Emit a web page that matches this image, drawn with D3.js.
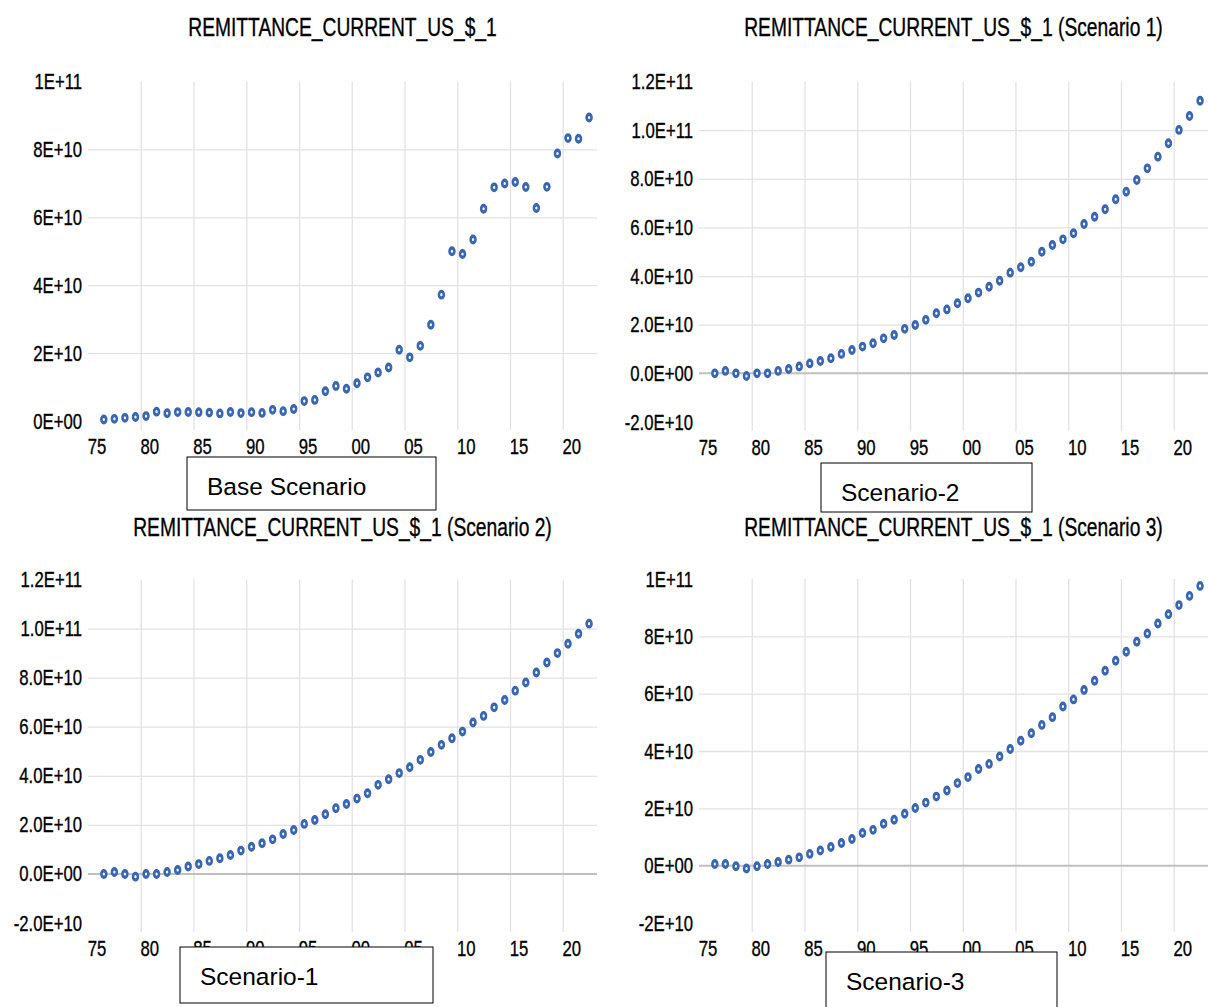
<!DOCTYPE html>
<html>
<head>
<meta charset="utf-8">
<script src="https://cdn.jsdelivr.net/npm/d3@7"></script>
<style>
  body { margin: 0; background: #fff; }
  text { font-family: "Liberation Sans", Arial, sans-serif; fill: #000; }
</style>
</head>
<body>
<script>
const width = 1208;
const height = 1007;

// observations, one per year
const years = d3.range(1975, 2022);

// billions of current US$
const baseValues = [
  0.43, 0.64, 0.93, 1.16, 1.44, 2.76, 2.30, 2.62, 2.66, 2.60,
  2.47, 2.24, 2.67, 2.32, 2.61, 2.38, 3.29, 2.90, 3.52, 5.86,
  6.22, 8.77, 10.33, 9.48, 11.12, 12.85, 14.27, 15.74, 21.00, 18.75,
  22.13, 28.33, 37.22, 49.98, 49.20, 53.48, 62.50, 68.82, 69.97, 70.39,
  68.91, 62.74, 68.97, 78.79, 83.33, 83.15, 89.38
];
const scenario1Values = [
  0.0, 1.0, 0.0, -1.1, 0.0, 0.0, 1.0, 1.8, 2.8, 4.1,
  5.1, 6.2, 8.0, 9.6, 11.0, 12.4, 14.4, 15.8, 18.3, 19.9,
  22.0, 24.7, 26.3, 28.8, 30.9, 33.2, 35.6, 38.1, 41.4, 43.6,
  45.9, 50.0, 52.8, 55.1, 57.6, 61.4, 64.4, 67.5, 71.6, 74.7,
  79.5, 84.3, 89.1, 94.6, 100.1, 105.8, 112.1
];
const scenario2Values = [
  0.0, 0.8, 0.0, -1.1, 0.0, 0.0, 0.8, 1.6, 3.0, 4.0,
  5.3, 6.4, 7.7, 9.5, 11.1, 12.5, 14.1, 16.3, 17.9, 20.4,
  22.0, 24.3, 26.8, 28.5, 30.7, 32.9, 36.3, 38.6, 41.1, 43.5,
  46.5, 49.7, 52.6, 55.3, 58.0, 61.7, 64.4, 67.9, 70.9, 74.7,
  78.0, 82.1, 86.2, 90.0, 93.8, 97.9, 102.0
];
const scenario3Values = [
  0.6, 0.6, -0.2, -1.0, -0.2, 0.6, 1.3, 2.1, 2.9, 4.1,
  5.3, 6.5, 7.9, 9.3, 11.4, 12.5, 14.6, 16.0, 18.1, 20.1,
  22.0, 24.1, 26.2, 28.8, 30.9, 33.7, 35.5, 38.1, 40.7, 43.6,
  46.2, 49.1, 51.8, 55.5, 58.0, 61.3, 64.5, 68.0, 71.5, 74.6,
  78.1, 81.0, 84.5, 87.7, 90.9, 94.1, 97.6
];

const xTickYears = [1975, 1980, 1985, 1990, 1995, 2000, 2005, 2010, 2015, 2020];
const yTicksBase = [0, 2e10, 4e10, 6e10, 8e10, 1e11];
const yTicksScen1 = [-2e10, 0, 2e10, 4e10, 6e10, 8e10, 1e11, 1.2e11];
const yTicksScen2 = [-2e10, 0, 2e10, 4e10, 6e10, 8e10, 1e11, 1.2e11];
const yTicksScen3 = [-2e10, 0, 2e10, 4e10, 6e10, 8e10, 1e11];

const titles = [
  'REMITTANCE_CURRENT_US_$_1',
  'REMITTANCE_CURRENT_US_$_1 (Scenario 1)',
  'REMITTANCE_CURRENT_US_$_1 (Scenario 2)',
  'REMITTANCE_CURRENT_US_$_1 (Scenario 3)'
];
const notes = ['Base Scenario', 'Scenario-2', 'Scenario-1', 'Scenario-3'];

// the source plots each observation a bit right of its labelled gridline
const obsShift = 1.5;
// the whole source picture is squeezed sideways
const squash = 0.75;

const panels = [
  { title: titles[0], values: baseValues, ticks: yTicksBase, dec: 0,
    left: 88, right: 597, top: 81.5, bottom: 421, titleY: 36,
    note: { text: notes[0], x: 187, y: 457, w: 249, h: 53 } },
  { title: titles[1], values: scenario1Values, ticks: yTicksScen1, dec: 1,
    left: 699, right: 1208, top: 81.5, bottom: 422, titleY: 36,
    note: { text: notes[1], x: 821, y: 463, w: 211, h: 49 } },
  { title: titles[2], values: scenario2Values, ticks: yTicksScen2, dec: 1,
    left: 88, right: 597, top: 579.5, bottom: 923, titleY: 536,
    note: { text: notes[2], x: 180, y: 947, w: 253, h: 56 } },
  { title: titles[3], values: scenario3Values, ticks: yTicksScen3, dec: 0,
    left: 699, right: 1208, top: 579, bottom: 923, titleY: 536,
    note: { text: notes[3], x: 826, y: 952, w: 231, h: 70 } }
];

// 1E+11 / 1.2E+11 style labels
function sci(dec) {
  return v => {
    if (v === 0) return (0).toFixed(dec) + 'E+00';
    const e = Math.floor(Math.log10(Math.abs(v)) + 1e-9);
    const m = v / Math.pow(10, e);
    return m.toFixed(dec) + 'E' + (e < 0 ? '-' : '+') + String(Math.abs(e)).padStart(2, '0');
  };
}

// narrow the text with a horizontal scale, keeping its anchor point
function squeeze(sel, k) {
  sel.each(function() {
    const x0 = +this.getAttribute('x') || 0;
    d3.select(this)
      .attr('x', x0 / k)
      .attr('transform', `scale(${k},1)`)
      .attr('stroke', '#000')
      .attr('stroke-width', 0.35);
  });
}

const svg = d3.select('body')
  .append('svg')
  .attr('width', width)
  .attr('height', height);

panels.forEach(p => {
  const g = svg.append('g');

  const x = d3.scaleLinear()
    .domain([1975, 2023.25])
    .range([p.left, p.right]);

  const y = d3.scaleLinear()
    .domain([p.ticks[0], p.ticks[p.ticks.length - 1]])
    .range([p.bottom, p.top]);

  // vertical gridlines
  g.append('g')
    .attr('transform', `translate(0,${p.top})`)
    .call(d3.axisBottom(x).tickValues(xTickYears.slice(1)).tickSize(p.bottom - p.top + 9).tickFormat(''))
    .call(a => a.select('.domain').remove())
    .call(a => a.selectAll('line').attr('stroke', '#e2e2e2').attr('stroke-width', 1.3));

  // horizontal gridlines (inner ticks only)
  const lo = p.ticks[0], hi = p.ticks[p.ticks.length - 1];
  g.append('g')
    .attr('transform', `translate(${p.left},0)`)
    .call(d3.axisRight(y).tickValues(p.ticks.filter(t => t > lo && t < hi && t !== 0))
      .tickSize(p.right - p.left).tickFormat(''))
    .call(a => a.select('.domain').remove())
    .call(a => a.selectAll('line').attr('stroke', '#e2e2e2').attr('stroke-width', 1.3));

  // zero line
  if (lo < 0) {
    g.append('line')
      .attr('x1', p.left).attr('x2', p.right)
      .attr('y1', y(0)).attr('y2', y(0))
      .attr('stroke', '#c0c0c0')
      .attr('stroke-width', 2);
  }

  // y labels
  const yAxis = g.append('g')
    .attr('transform', `translate(${p.left},0)`)
    .call(d3.axisLeft(y).tickValues(p.ticks).tickFormat(sci(p.dec)).tickSize(0).tickPadding(6))
    .attr('font-family', null)
    .attr('font-size', null);
  yAxis.select('.domain').remove();
  yAxis.selectAll('text').attr('font-size', 22).call(squeeze, 0.76);

  // x labels
  const xAxis = g.append('g')
    .attr('transform', `translate(0,${p.bottom})`)
    .call(d3.axisBottom(x).tickValues(xTickYears)
      .tickFormat(d => String(d % 100).padStart(2, '0')).tickSize(0).tickPadding(17))
    .attr('font-family', null)
    .attr('font-size', null);
  xAxis.select('.domain').remove();
  xAxis.selectAll('text')
    .attr('font-size', 22)
    .attr('text-anchor', 'start')
    .attr('dx', -1)
    .call(squeeze, 0.76);

  // markers, ring shaped and squeezed like the source
  g.append('g')
    .selectAll('circle')
    .data(p.values.map((v, i) => ({ year: years[i], value: v * 1e9 })))
    .join('circle')
    .attr('transform', d => `translate(${x(d.year + obsShift)},${y(d.value)}) scale(${squash},1)`)
    .attr('r', 3.25)
    .attr('fill', '#fff')
    .attr('stroke', '#3866b4')
    .attr('stroke-width', 3.4);

  // title
  svg.append('text')
    .attr('x', (p.left + p.right) / 2)
    .attr('y', p.titleY)
    .attr('text-anchor', 'middle')
    .attr('font-size', 26)
    .text(p.title)
    .call(squeeze, 0.74);
});

// annotation boxes, drawn last so they sit over the axis labels
panels.forEach(p => {
  const n = p.note;
  svg.append('rect')
    .attr('x', n.x).attr('y', n.y)
    .attr('width', n.w).attr('height', n.h)
    .attr('fill', '#fff')
    .attr('stroke', '#000')
    .attr('stroke-width', 1);
  svg.append('text')
    .attr('x', n.x + 20)
    .attr('y', n.y + 38)
    .attr('font-size', 24.5)
    .text(n.text);
});
</script>
</body>
</html>
